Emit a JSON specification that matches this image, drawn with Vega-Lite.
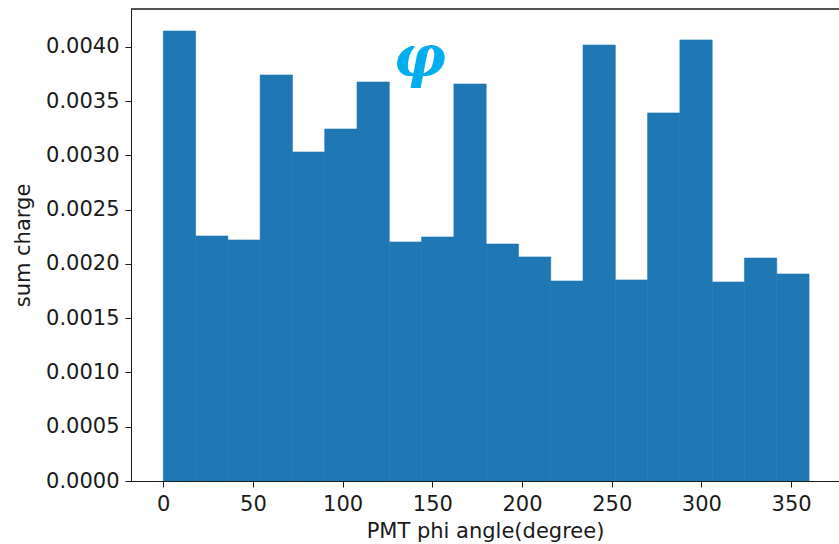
{
  "$schema": "https://vega.github.io/schema/vega-lite/v6.json",
  "autosize": {"type": "none"},
  "width": 708,
  "height": 472,
  "padding": {"left": 131, "top": 9, "right": 0, "bottom": 63},
  "background": "white",
  "config": {
    "view": {"stroke": null},
    "axis": {
      "labelFont": "DejaVu Sans",
      "titleFont": "DejaVu Sans",
      "labelFontSize": 21,
      "titleFontSize": 21,
      "titleFontWeight": "normal",
      "labelColor": "#1a1a1a",
      "titleColor": "#1a1a1a",
      "domainColor": "#1a1a1a",
      "tickColor": "#1a1a1a",
      "tickSize": 6,
      "grid": false
    }
  },
  "datasets": {
    "bins": [
      {"start": 0, "end": 18, "charge": 0.004147},
      {"start": 18, "end": 36, "charge": 0.002258},
      {"start": 36, "end": 54, "charge": 0.002221},
      {"start": 54, "end": 72, "charge": 0.003742},
      {"start": 72, "end": 90, "charge": 0.003032},
      {"start": 90, "end": 108, "charge": 0.003244},
      {"start": 108, "end": 126, "charge": 0.003677},
      {"start": 126, "end": 144, "charge": 0.002203},
      {"start": 144, "end": 162, "charge": 0.002249},
      {"start": 162, "end": 180, "charge": 0.003659},
      {"start": 180, "end": 198, "charge": 0.002184},
      {"start": 198, "end": 216, "charge": 0.002065},
      {"start": 216, "end": 234, "charge": 0.001843},
      {"start": 234, "end": 252, "charge": 0.004018},
      {"start": 252, "end": 270, "charge": 0.001853},
      {"start": 270, "end": 288, "charge": 0.003392},
      {"start": 288, "end": 306, "charge": 0.004065},
      {"start": 306, "end": 324, "charge": 0.001834},
      {"start": 324, "end": 342, "charge": 0.002055},
      {"start": 342, "end": 360, "charge": 0.001908}
    ],
    "symbol": [{"angle": 143, "charge": 0.00389, "label": "φ"}]
  },
  "layer": [
    {
      "data": {"name": "bins"},
      "mark": {"type": "bar", "color": "#1f77b4", "stroke": "#1f77b4", "strokeWidth": 0.6, "clip": true},
      "encoding": {
        "x": {
          "field": "start",
          "type": "quantitative",
          "scale": {"domain": [-18, 376.7], "nice": false, "zero": false},
          "axis": {
            "title": "PMT phi angle(degree)",
            "values": [0, 50, 100, 150, 200, 250, 300, 350],
            "labelPadding": 6,
            "titlePadding": 6
          }
        },
        "x2": {"field": "end"},
        "y": {
          "field": "charge",
          "type": "quantitative",
          "scale": {"domain": [0, 0.00435], "nice": false},
          "axis": {
            "title": "sum charge",
            "format": ".4f",
            "values": [0, 0.0005, 0.001, 0.0015, 0.002, 0.0025, 0.003, 0.0035, 0.004],
            "labelPadding": 6,
            "titlePadding": 12
          }
        },
        "y2": {"datum": 0}
      }
    },
    {
      "data": {"values": [{}]},
      "mark": {"type": "rule", "color": "#1a1a1a", "strokeWidth": 1.5},
      "encoding": {"y": {"datum": 0.00435}}
    },
    {
      "data": {"name": "symbol"},
      "mark": {
        "type": "text",
        "font": "DejaVu Serif",
        "fontStyle": "italic",
        "fontWeight": "bold",
        "fontSize": 58,
        "color": "#00aeef",
        "align": "center",
        "baseline": "middle"
      },
      "encoding": {
        "x": {"field": "angle", "type": "quantitative"},
        "y": {"field": "charge", "type": "quantitative"},
        "text": {"field": "label"}
      }
    }
  ]
}
